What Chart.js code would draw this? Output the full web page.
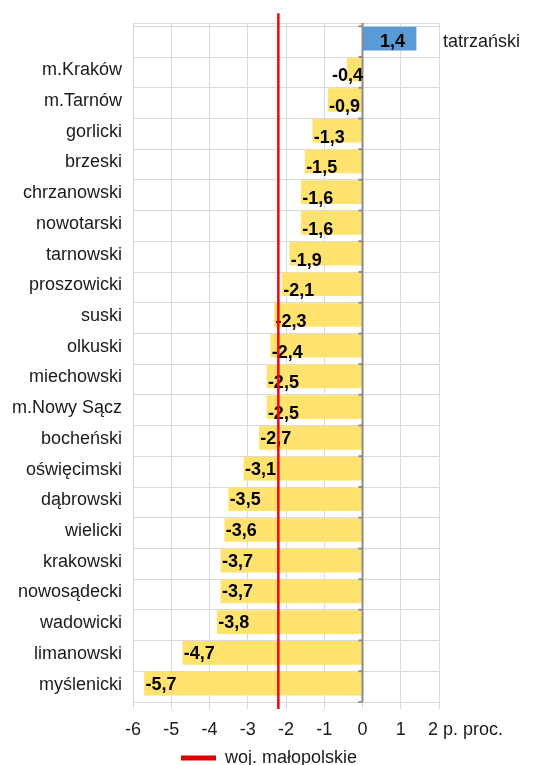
<!DOCTYPE html>
<html>
<head>
<meta charset="utf-8">
<script src="https://cdn.jsdelivr.net/npm/chart.js@4.4.0/dist/chart.umd.min.js"></script>
<style>
  html, body { margin: 0; padding: 0; overflow: hidden; background: #fff; }
  canvas { display: block; }
</style>
</head>
<body>
<canvas id="wykres" width="538" height="777"></canvas>
<script>
const powiaty = ['tatrzański', 'm.Kraków', 'm.Tarnów', 'gorlicki', 'brzeski', 'chrzanowski',
    'nowotarski', 'tarnowski', 'proszowicki', 'suski', 'olkuski', 'miechowski', 'm.Nowy Sącz',
    'bocheński', 'oświęcimski', 'dąbrowski', 'wielicki', 'krakowski', 'nowosądecki',
    'wadowicki', 'limanowski', 'myślenicki'];

const zmiany = [1.4, -0.4, -0.9, -1.3, -1.5, -1.6, -1.6, -1.9, -2.1, -2.3, -2.4, -2.5, -2.5,
    -2.7, -3.1, -3.5, -3.6, -3.7, -3.7, -3.8, -4.7, -5.7];

const woj_malopolskie = -2.2;
const os_x_min = -6;
const os_x_max = 2;
const jednostka = 'p. proc.';

const ZOLTY = '#FFE36E';
const NIEBIESKI = '#5B9BD5';
const CZERWONY = '#FF0000';
const SIATKA = '#D9D9D9';
const OS_ZERO = '#8C8C8C';

Chart.defaults.font.family = '"Liberation Sans", Arial, sans-serif';
Chart.defaults.color = '#1a1a1a';

const n = powiaty.length;
// siatka kategorii zaczyna sie troche ponizej gory wykresu, slupki siedza wyzej niz srodek
const gora_siatki = 0.107;
const przesuniecie_slupkow = 0.1;

const formatuj = v => v.toFixed(1).replace('.', ',');

const ticki_kategorii = scale => {
    scale.ticks = powiaty.map((_, i) => ({ value: i }));
};

const etykiety_wartosci = {
    id: 'etykiety_wartosci',
    beforeDatasetsDraw(chart) {
        const ctx = chart.ctx;
        const a = chart.chartArea;
        ctx.save();
        ctx.strokeStyle = SIATKA;
        ctx.lineWidth = 1;
        ctx.beginPath();
        ctx.moveTo(a.left, a.top + 0.5);
        ctx.lineTo(a.right, a.top + 0.5);
        ctx.stroke();
        ctx.restore();
    },
    afterDatasetDraw(chart, args) {
        if (args.index !== 0) return;
        const ctx = chart.ctx;
        const x = chart.scales.x;
        const y = chart.scales.y;
        const zero = x.getPixelForValue(0);

        ctx.save();
        // os zero z kreseczkami
        ctx.strokeStyle = OS_ZERO;
        ctx.lineWidth = 2;
        ctx.beginPath();
        ctx.moveTo(zero, chart.chartArea.top);
        ctx.lineTo(zero, chart.chartArea.bottom);
        for (let i = 0; i <= n; i++) {
            const yy = y.getPixelForValue(i - 0.5);
            ctx.moveTo(zero - 4, yy);
            ctx.lineTo(zero, yy);
        }
        ctx.stroke();

        ctx.font = 'bold 18px "Liberation Sans", Arial, sans-serif';
        ctx.fillStyle = '#000';
        ctx.textBaseline = 'middle';
        args.meta.data.forEach((bar, i) => {
            const v = zmiany[i];
            const tekst = formatuj(v);
            const w = ctx.measureText(tekst).width;
            if (v > 0) {
                ctx.textAlign = 'right';
                ctx.fillText(tekst, bar.x - 11, bar.y + 3);
            } else {
                ctx.textAlign = 'left';
                const dy = v <= -2.7 ? 1 : 7;
                ctx.fillText(tekst, Math.min(bar.x + 1, bar.base - w + 1), bar.y + dy);
            }
        });
        ctx.restore();
    },
    afterDraw(chart) {
        const ctx = chart.ctx;
        const x = chart.scales.x;
        ctx.save();
        ctx.font = '18px "Liberation Sans", Arial, sans-serif';
        ctx.fillStyle = '#1a1a1a';
        ctx.textAlign = 'left';
        ctx.textBaseline = 'middle';
        ctx.fillText(os_x_max + ' ' + jednostka, x.getPixelForValue(os_x_max) - 11, x.top + 7 + 10 + 10.8);
        ctx.restore();
    }
};

const wykres = new Chart(document.getElementById('wykres'), {
    type: 'bar',
    data: {
        labels: powiaty,
        datasets: [
            {
                label: 'zmiana',
                data: zmiany.map((v, i) => ({ x: v, y: i })),
                backgroundColor: zmiany.map(v => v > 0 ? NIEBIESKI : ZOLTY),
                borderWidth: 0,
                grouped: false,
                barThickness: 23,
                xAxisID: 'x',
                yAxisID: 'yb',
                order: 2
            },
            {
                type: 'line',
                label: 'woj. małopolskie',
                data: [{ x: woj_malopolskie, y: 0 }, { x: woj_malopolskie, y: 1 }],
                borderColor: CZERWONY,
                backgroundColor: '#E00000',
                borderWidth: 2.5,
                pointRadius: 0,
                fill: false,
                clip: false,
                xAxisID: 'x',
                yAxisID: 'yl',
                order: 1
            }
        ]
    },
    options: {
        indexAxis: 'y',
        responsive: false,
        animation: false,
        devicePixelRatio: 1,
        layout: {
            padding: { top: 23, bottom: 0, left: 0, right: 0 }
        },
        plugins: {
            tooltip: { enabled: false },
            legend: {
                position: 'bottom',
                labels: {
                    filter: item => item.datasetIndex === 1,
                    boxWidth: 35,
                    boxHeight: 5,
                    padding: 10,
                    color: '#1a1a1a',
                    font: { size: 18 },
                    generateLabels: chart => Chart.defaults.plugins.legend.labels.generateLabels(chart)
                        .map(l => Object.assign(l, { lineWidth: 0 }))
                }
            }
        },
        scales: {
            x: {
                type: 'linear',
                position: 'bottom',
                min: os_x_min,
                max: os_x_max,
                afterFit: s => { s.height = 37; },
                ticks: {
                    stepSize: 1,
                    padding: 10,
                    color: '#1a1a1a',
                    font: { size: 18 },
                    callback: v => v === os_x_max ? '' : String(v)
                },
                grid: {
                    color: SIATKA,
                    tickLength: 7,
                    tickColor: SIATKA
                },
                border: { color: SIATKA }
            },
            y: {
                type: 'linear',
                position: 'left',
                reverse: true,
                offset: false,
                min: -0.5 - gora_siatki,
                max: n - 0.5,
                afterBuildTicks: ticki_kategorii,
                afterFit: s => { s.width = 133; },
                ticks: {
                    padding: 11,
                    labelOffset: -2,
                    color: '#1a1a1a',
                    font: { size: 18 },
                    callback: v => zmiany[v] > 0 ? '' : powiaty[v]
                },
                grid: { color: SIATKA, offset: true, drawTicks: false },
                border: { display: false }
            },
            yR: {
                type: 'linear',
                position: 'right',
                reverse: true,
                offset: false,
                min: -0.5 - gora_siatki,
                max: n - 0.5,
                afterBuildTicks: ticki_kategorii,
                afterFit: s => { s.width = 99; },
                ticks: {
                    padding: 4,
                    color: '#1a1a1a',
                    font: { size: 18 },
                    callback: v => zmiany[v] > 0 ? powiaty[v] : ''
                },
                grid: { display: false, drawTicks: false },
                border: { display: false }
            },
            yb: {
                type: 'linear',
                display: false,
                reverse: true,
                offset: false,
                min: -0.5 - gora_siatki + przesuniecie_slupkow,
                max: n - 0.5 + przesuniecie_slupkow,
                afterBuildTicks: ticki_kategorii
            },
            yl: {
                type: 'linear',
                display: false,
                offset: false,
                min: 0.01,
                max: 0.986
            }
        }
    },
    plugins: [etykiety_wartosci]
});
</script>
</body>
</html>
